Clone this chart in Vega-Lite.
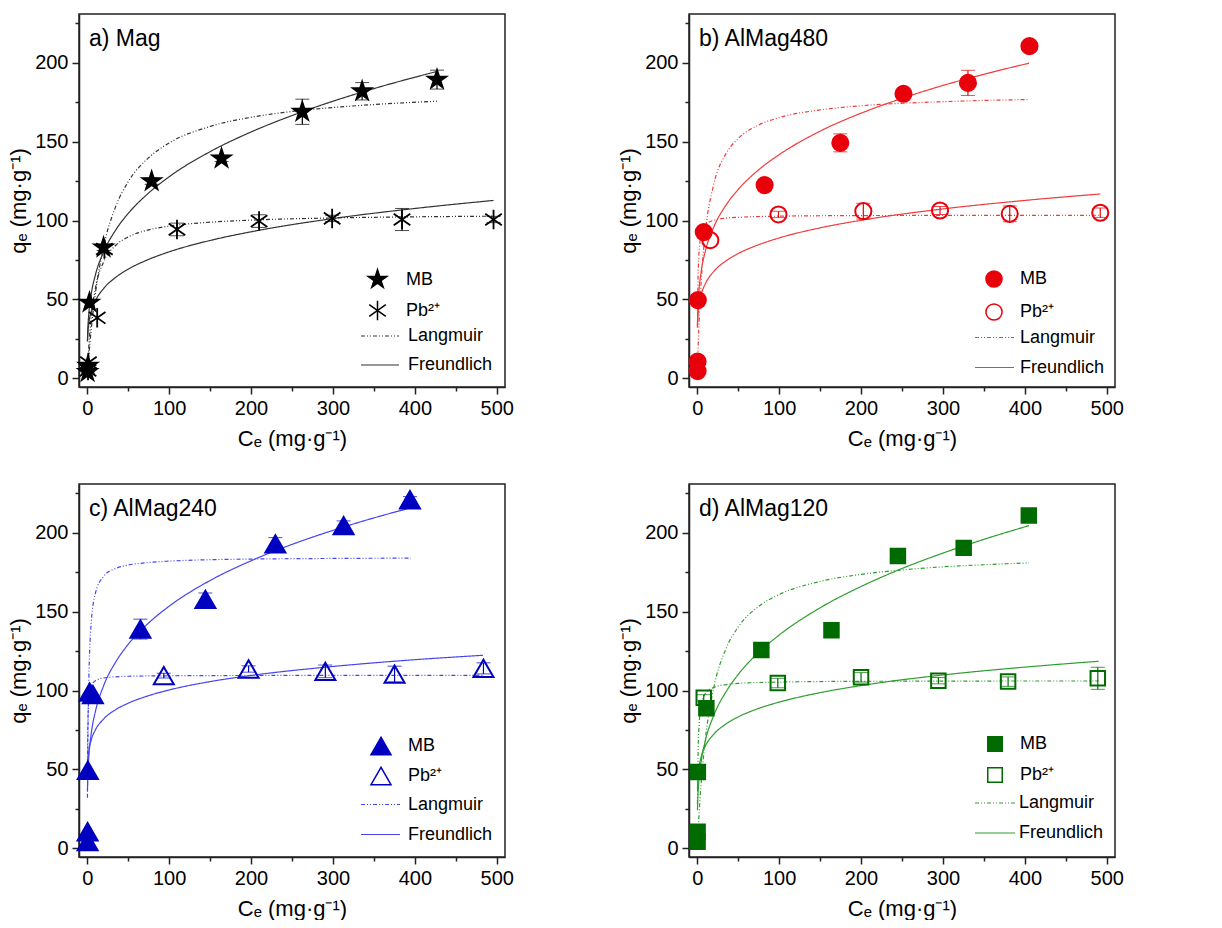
{
"$schema": "https://vega.github.io/schema/vega-lite/v6.json",
"padding": {"left": 6, "top": 13, "right": 5, "bottom": 0},
"columns": 2,
"bounds": "flush",
"spacing": {"row": 97, "column": 184},
"resolve": {"scale": {"shape": "independent", "fill": "independent", "strokeDash": "independent", "x": "independent", "y": "independent"}, "legend": {"shape": "independent", "fill": "independent", "strokeDash": "independent"}},
"config": {
  "font": "Liberation Sans",
  "view": {"stroke": "#222", "strokeWidth": 1.5},
  "axis": {"labelFontSize": 20, "titleFontSize": 22, "titleFontWeight": "normal", "labelColor": "#000", "titleColor": "#000", "tickColor": "#222", "domainColor": "#222", "domainWidth": 1.5, "tickWidth": 1.5, "grid": false, "labelPadding": 4, "labelFont": "Liberation Sans", "titleFont": "Liberation Sans"},
  "axisX": {"titlePadding": 10},
  "axisY": {"titlePadding": 4},
  "legend": {"labelFontSize": 18, "labelColor": "#000", "labelFont": "Liberation Sans", "padding": 0},
  "title": {"fontSize": 23, "fontWeight": "normal", "font": "Liberation Sans", "color": "#000", "anchor": "start", "frame": "group", "offset": -37, "dx": 10}
},
"datasets": {
"pts": [
{"p":"a","s":"MB","C":0.5,"q":4,"e":0},{"p":"a","s":"MB","C":1,"q":8,"e":0},{"p":"a","s":"MB","C":2.8,"q":48,"e":0},{"p":"a","s":"MB","C":20,"q":83,"e":2},{"p":"a","s":"MB","C":78.7,"q":125,"e":2},{"p":"a","s":"MB","C":164,"q":139.4,"e":2},{"p":"a","s":"MB","C":262.6,"q":169,"e":8},{"p":"a","s":"MB","C":335.6,"q":182,"e":5.5},{"p":"a","s":"MB","C":427,"q":189.4,"e":6},
{"p":"a","s":"Pb²⁺","C":1,"q":5,"e":0},{"p":"a","s":"Pb²⁺","C":1.5,"q":10,"e":0},{"p":"a","s":"Pb²⁺","C":12.2,"q":38.4,"e":0},{"p":"a","s":"Pb²⁺","C":21,"q":82,"e":0},{"p":"a","s":"Pb²⁺","C":109.6,"q":94.4,"e":4},{"p":"a","s":"Pb²⁺","C":209.8,"q":99.7,"e":4},{"p":"a","s":"Pb²⁺","C":299,"q":101.4,"e":2},{"p":"a","s":"Pb²⁺","C":384.3,"q":100.7,"e":7},{"p":"a","s":"Pb²⁺","C":496,"q":100.7,"e":2},
{"p":"b","s":"MB","C":0.5,"q":4.6,"e":0},{"p":"b","s":"MB","C":0.5,"q":10.6,"e":0},{"p":"b","s":"MB","C":0.8,"q":49.6,"e":0},{"p":"b","s":"MB","C":8,"q":92.7,"e":0},{"p":"b","s":"MB","C":82.3,"q":122.5,"e":3.5},{"p":"b","s":"MB","C":174.7,"q":149.3,"e":5.7},{"p":"b","s":"MB","C":251.8,"q":180.4,"e":2.5},{"p":"b","s":"MB","C":330.5,"q":187.3,"e":8},{"p":"b","s":"MB","C":405.6,"q":210.6,"e":3},
{"p":"b","s":"Pb²⁺","C":16,"q":87.6,"e":0},{"p":"b","s":"Pb²⁺","C":99.2,"q":103.9,"e":2},{"p":"b","s":"Pb²⁺","C":202.8,"q":106,"e":5},{"p":"b","s":"Pb²⁺","C":296.4,"q":106.4,"e":2.5},{"p":"b","s":"Pb²⁺","C":381.5,"q":104.3,"e":5},{"p":"b","s":"Pb²⁺","C":492,"q":105,"e":3},
{"p":"c","s":"MB","C":0.5,"q":4.2,"e":0},{"p":"c","s":"MB","C":0.5,"q":10.5,"e":0},{"p":"c","s":"MB","C":0.8,"q":49.5,"e":0},{"p":"c","s":"MB","C":3,"q":99,"e":0},{"p":"c","s":"MB","C":7,"q":97.5,"e":0},{"p":"c","s":"MB","C":65,"q":139,"e":6.3},{"p":"c","s":"MB","C":144.3,"q":157.9,"e":4},{"p":"c","s":"MB","C":229.7,"q":193,"e":4},{"p":"c","s":"MB","C":313,"q":204.6,"e":3},{"p":"c","s":"MB","C":394,"q":221,"e":2},
{"p":"c","s":"Pb²⁺","C":93.5,"q":109.5,"e":1.5},{"p":"c","s":"Pb²⁺","C":197,"q":113.7,"e":2},{"p":"c","s":"Pb²⁺","C":290.7,"q":112.2,"e":4},{"p":"c","s":"Pb²⁺","C":375.2,"q":110.5,"e":5},{"p":"c","s":"Pb²⁺","C":483.7,"q":114.1,"e":3.5},
{"p":"d","s":"MB","C":0.5,"q":4.2,"e":0},{"p":"d","s":"MB","C":0.5,"q":10.5,"e":0},{"p":"d","s":"MB","C":0.8,"q":48.4,"e":0},{"p":"d","s":"MB","C":11.2,"q":88.8,"e":2},{"p":"d","s":"MB","C":78.3,"q":125.7,"e":3},{"p":"d","s":"MB","C":163.9,"q":138.3,"e":2},{"p":"d","s":"MB","C":245,"q":185.3,"e":4},{"p":"d","s":"MB","C":325.3,"q":190.5,"e":3},{"p":"d","s":"MB","C":404.8,"q":211,"e":2},
{"p":"d","s":"Pb²⁺","C":8,"q":95.4,"e":2},{"p":"d","s":"Pb²⁺","C":98.4,"q":104.8,"e":3},{"p":"d","s":"Pb²⁺","C":200,"q":108.4,"e":3},{"p":"d","s":"Pb²⁺","C":294.4,"q":106.3,"e":2},{"p":"d","s":"Pb²⁺","C":379.5,"q":105.7,"e":3},{"p":"d","s":"Pb²⁺","C":489,"q":107.8,"e":7}
],
"fit": [
{"p":"a","s":"MB","m":"Langmuir","C":0.3,"q":2.24},{"p":"a","s":"MB","m":"Langmuir","C":1,"q":7.27},{"p":"a","s":"MB","m":"Langmuir","C":2,"q":13.98},{"p":"a","s":"MB","m":"Langmuir","C":5,"q":31.4},{"p":"a","s":"MB","m":"Langmuir","C":10,"q":53.7},{"p":"a","s":"MB","m":"Langmuir","C":20,"q":83.4},{"p":"a","s":"MB","m":"Langmuir","C":35,"q":109.2},{"p":"a","s":"MB","m":"Langmuir","C":50,"q":124.6},{"p":"a","s":"MB","m":"Langmuir","C":75,"q":139.9},{"p":"a","s":"MB","m":"Langmuir","C":100,"q":149.2},{"p":"a","s":"MB","m":"Langmuir","C":150,"q":159.7},{"p":"a","s":"MB","m":"Langmuir","C":200,"q":165.5},{"p":"a","s":"MB","m":"Langmuir","C":250,"q":169.2},{"p":"a","s":"MB","m":"Langmuir","C":300,"q":171.7},{"p":"a","s":"MB","m":"Langmuir","C":350,"q":173.6},{"p":"a","s":"MB","m":"Langmuir","C":427,"q":175.7},
{"p":"a","s":"MB","m":"Freundlich","C":0.3,"q":23.7},{"p":"a","s":"MB","m":"Freundlich","C":1,"q":33.6},{"p":"a","s":"MB","m":"Freundlich","C":2,"q":41.1},{"p":"a","s":"MB","m":"Freundlich","C":5,"q":53.6},{"p":"a","s":"MB","m":"Freundlich","C":10,"q":65.5},{"p":"a","s":"MB","m":"Freundlich","C":20,"q":80.1},{"p":"a","s":"MB","m":"Freundlich","C":35,"q":94.2},{"p":"a","s":"MB","m":"Freundlich","C":50,"q":104.5},{"p":"a","s":"MB","m":"Freundlich","C":75,"q":117.5},{"p":"a","s":"MB","m":"Freundlich","C":100,"q":127.8},{"p":"a","s":"MB","m":"Freundlich","C":150,"q":143.7},{"p":"a","s":"MB","m":"Freundlich","C":200,"q":156.2},{"p":"a","s":"MB","m":"Freundlich","C":250,"q":166.6},{"p":"a","s":"MB","m":"Freundlich","C":300,"q":175.7},{"p":"a","s":"MB","m":"Freundlich","C":350,"q":183.7},{"p":"a","s":"MB","m":"Freundlich","C":427,"q":194.6},
{"p":"a","s":"Pb²⁺","m":"Langmuir","C":0.3,"q":3.6},{"p":"a","s":"Pb²⁺","m":"Langmuir","C":1,"q":11.2},{"p":"a","s":"Pb²⁺","m":"Langmuir","C":2,"q":20.2},{"p":"a","s":"Pb²⁺","m":"Langmuir","C":5,"q":39.2},{"p":"a","s":"Pb²⁺","m":"Langmuir","C":10,"q":57.0},{"p":"a","s":"Pb²⁺","m":"Langmuir","C":20,"q":73.8},{"p":"a","s":"Pb²⁺","m":"Langmuir","C":35,"q":84.4},{"p":"a","s":"Pb²⁺","m":"Langmuir","C":50,"q":89.6},{"p":"a","s":"Pb²⁺","m":"Langmuir","C":75,"q":94.1},{"p":"a","s":"Pb²⁺","m":"Langmuir","C":100,"q":96.5},{"p":"a","s":"Pb²⁺","m":"Langmuir","C":150,"q":99.0},{"p":"a","s":"Pb²⁺","m":"Langmuir","C":200,"q":100.3},{"p":"a","s":"Pb²⁺","m":"Langmuir","C":300,"q":101.7},{"p":"a","s":"Pb²⁺","m":"Langmuir","C":400,"q":102.4},{"p":"a","s":"Pb²⁺","m":"Langmuir","C":496,"q":102.8},
{"p":"a","s":"Pb²⁺","m":"Freundlich","C":0.3,"q":23.3},{"p":"a","s":"Pb²⁺","m":"Freundlich","C":1,"q":30.1},{"p":"a","s":"Pb²⁺","m":"Freundlich","C":2,"q":34.9},{"p":"a","s":"Pb²⁺","m":"Freundlich","C":5,"q":42.4},{"p":"a","s":"Pb²⁺","m":"Freundlich","C":10,"q":49.1},{"p":"a","s":"Pb²⁺","m":"Freundlich","C":20,"q":56.9},{"p":"a","s":"Pb²⁺","m":"Freundlich","C":35,"q":64.1},{"p":"a","s":"Pb²⁺","m":"Freundlich","C":50,"q":69.2},{"p":"a","s":"Pb²⁺","m":"Freundlich","C":75,"q":75.4},{"p":"a","s":"Pb²⁺","m":"Freundlich","C":100,"q":80.2},{"p":"a","s":"Pb²⁺","m":"Freundlich","C":150,"q":87.4},{"p":"a","s":"Pb²⁺","m":"Freundlich","C":200,"q":92.9},{"p":"a","s":"Pb²⁺","m":"Freundlich","C":300,"q":101.3},{"p":"a","s":"Pb²⁺","m":"Freundlich","C":400,"q":107.7},{"p":"a","s":"Pb²⁺","m":"Freundlich","C":496,"q":112.8},
{"p":"b","s":"MB","m":"Langmuir","C":0.3,"q":5.5},{"p":"b","s":"MB","m":"Langmuir","C":1,"q":17.2},{"p":"b","s":"MB","m":"Langmuir","C":2,"q":31.4},{"p":"b","s":"MB","m":"Langmuir","C":5,"q":62.3},{"p":"b","s":"MB","m":"Langmuir","C":10,"q":92.7},{"p":"b","s":"MB","m":"Langmuir","C":20,"q":122.6},{"p":"b","s":"MB","m":"Langmuir","C":35,"q":142.3},{"p":"b","s":"MB","m":"Langmuir","C":50,"q":152.0},{"p":"b","s":"MB","m":"Langmuir","C":75,"q":160.6},{"p":"b","s":"MB","m":"Langmuir","C":100,"q":165.3},{"p":"b","s":"MB","m":"Langmuir","C":150,"q":170.2},{"p":"b","s":"MB","m":"Langmuir","C":200,"q":172.8},{"p":"b","s":"MB","m":"Langmuir","C":250,"q":174.4},{"p":"b","s":"MB","m":"Langmuir","C":300,"q":175.4},{"p":"b","s":"MB","m":"Langmuir","C":350,"q":176.2},{"p":"b","s":"MB","m":"Langmuir","C":405,"q":176.8},
{"p":"b","s":"MB","m":"Freundlich","C":0.3,"q":34.2},{"p":"b","s":"MB","m":"Freundlich","C":1,"q":45.9},{"p":"b","s":"MB","m":"Freundlich","C":2,"q":54.4},{"p":"b","s":"MB","m":"Freundlich","C":5,"q":68.1},{"p":"b","s":"MB","m":"Freundlich","C":10,"q":80.7},{"p":"b","s":"MB","m":"Freundlich","C":20,"q":95.6},{"p":"b","s":"MB","m":"Freundlich","C":35,"q":109.7},{"p":"b","s":"MB","m":"Freundlich","C":50,"q":119.7},{"p":"b","s":"MB","m":"Freundlich","C":75,"q":132.2},{"p":"b","s":"MB","m":"Freundlich","C":100,"q":141.8},{"p":"b","s":"MB","m":"Freundlich","C":150,"q":156.7},{"p":"b","s":"MB","m":"Freundlich","C":200,"q":168.1},{"p":"b","s":"MB","m":"Freundlich","C":250,"q":177.5},{"p":"b","s":"MB","m":"Freundlich","C":300,"q":185.7},{"p":"b","s":"MB","m":"Freundlich","C":350,"q":192.8},{"p":"b","s":"MB","m":"Freundlich","C":405,"q":199.8},
{"p":"b","s":"Pb²⁺","m":"Langmuir","C":0.3,"q":32.1},{"p":"b","s":"Pb²⁺","m":"Langmuir","C":1,"q":62.1},{"p":"b","s":"Pb²⁺","m":"Langmuir","C":2,"q":77.6},{"p":"b","s":"Pb²⁺","m":"Langmuir","C":3,"q":84.7},{"p":"b","s":"Pb²⁺","m":"Langmuir","C":5,"q":91.3},{"p":"b","s":"Pb²⁺","m":"Langmuir","C":10,"q":97.0},{"p":"b","s":"Pb²⁺","m":"Langmuir","C":20,"q":100.2},{"p":"b","s":"Pb²⁺","m":"Langmuir","C":35,"q":101.6},{"p":"b","s":"Pb²⁺","m":"Langmuir","C":50,"q":102.1},{"p":"b","s":"Pb²⁺","m":"Langmuir","C":100,"q":102.8},{"p":"b","s":"Pb²⁺","m":"Langmuir","C":200,"q":103.2},{"p":"b","s":"Pb²⁺","m":"Langmuir","C":300,"q":103.3},{"p":"b","s":"Pb²⁺","m":"Langmuir","C":400,"q":103.3},{"p":"b","s":"Pb²⁺","m":"Langmuir","C":492,"q":103.4},
{"p":"b","s":"Pb²⁺","m":"Freundlich","C":0.3,"q":33.0},{"p":"b","s":"Pb²⁺","m":"Freundlich","C":1,"q":40.5},{"p":"b","s":"Pb²⁺","m":"Freundlich","C":2,"q":45.6},{"p":"b","s":"Pb²⁺","m":"Freundlich","C":5,"q":53.3},{"p":"b","s":"Pb²⁺","m":"Freundlich","C":10,"q":60.0},{"p":"b","s":"Pb²⁺","m":"Freundlich","C":20,"q":67.6},{"p":"b","s":"Pb²⁺","m":"Freundlich","C":35,"q":74.4},{"p":"b","s":"Pb²⁺","m":"Freundlich","C":50,"q":79.1},{"p":"b","s":"Pb²⁺","m":"Freundlich","C":75,"q":84.7},{"p":"b","s":"Pb²⁺","m":"Freundlich","C":100,"q":89.0},{"p":"b","s":"Pb²⁺","m":"Freundlich","C":150,"q":95.4},{"p":"b","s":"Pb²⁺","m":"Freundlich","C":200,"q":100.2},{"p":"b","s":"Pb²⁺","m":"Freundlich","C":300,"q":107.4},{"p":"b","s":"Pb²⁺","m":"Freundlich","C":400,"q":112.8},{"p":"b","s":"Pb²⁺","m":"Freundlich","C":492,"q":116.9},
{"p":"c","s":"MB","m":"Langmuir","C":0.3,"q":32.1},{"p":"c","s":"MB","m":"Langmuir","C":1,"q":76.1},{"p":"c","s":"MB","m":"Langmuir","C":2,"q":107.7},{"p":"c","s":"MB","m":"Langmuir","C":3,"q":125.1},{"p":"c","s":"MB","m":"Langmuir","C":5,"q":143.7},{"p":"c","s":"MB","m":"Langmuir","C":10,"q":161.6},{"p":"c","s":"MB","m":"Langmuir","C":20,"q":172.4},{"p":"c","s":"MB","m":"Langmuir","C":35,"q":177.5},{"p":"c","s":"MB","m":"Langmuir","C":50,"q":179.6},{"p":"c","s":"MB","m":"Langmuir","C":75,"q":181.2},{"p":"c","s":"MB","m":"Langmuir","C":100,"q":182.1},{"p":"c","s":"MB","m":"Langmuir","C":150,"q":183.0},{"p":"c","s":"MB","m":"Langmuir","C":200,"q":183.4},{"p":"c","s":"MB","m":"Langmuir","C":300,"q":183.8},{"p":"c","s":"MB","m":"Langmuir","C":395,"q":184.0},
{"p":"c","s":"MB","m":"Freundlich","C":0.3,"q":36.4},{"p":"c","s":"MB","m":"Freundlich","C":1,"q":49.0},{"p":"c","s":"MB","m":"Freundlich","C":2,"q":58.2},{"p":"c","s":"MB","m":"Freundlich","C":5,"q":73.0},{"p":"c","s":"MB","m":"Freundlich","C":10,"q":86.7},{"p":"c","s":"MB","m":"Freundlich","C":20,"q":103.0},{"p":"c","s":"MB","m":"Freundlich","C":35,"q":118.3},{"p":"c","s":"MB","m":"Freundlich","C":50,"q":129.3},{"p":"c","s":"MB","m":"Freundlich","C":75,"q":142.9},{"p":"c","s":"MB","m":"Freundlich","C":100,"q":153.5},{"p":"c","s":"MB","m":"Freundlich","C":150,"q":169.8},{"p":"c","s":"MB","m":"Freundlich","C":200,"q":182.3},{"p":"c","s":"MB","m":"Freundlich","C":250,"q":192.7},{"p":"c","s":"MB","m":"Freundlich","C":300,"q":201.6},{"p":"c","s":"MB","m":"Freundlich","C":350,"q":209.5},{"p":"c","s":"MB","m":"Freundlich","C":395,"q":215.9},
{"p":"c","s":"Pb²⁺","m":"Langmuir","C":0.3,"q":52.0},{"p":"c","s":"Pb²⁺","m":"Langmuir","C":1,"q":82.4},{"p":"c","s":"Pb²⁺","m":"Langmuir","C":2,"q":94.1},{"p":"c","s":"Pb²⁺","m":"Langmuir","C":5,"q":102.9},{"p":"c","s":"Pb²⁺","m":"Langmuir","C":10,"q":106.3},{"p":"c","s":"Pb²⁺","m":"Langmuir","C":20,"q":108.0},{"p":"c","s":"Pb²⁺","m":"Langmuir","C":50,"q":109.1},{"p":"c","s":"Pb²⁺","m":"Langmuir","C":100,"q":109.4},{"p":"c","s":"Pb²⁺","m":"Langmuir","C":200,"q":109.6},{"p":"c","s":"Pb²⁺","m":"Langmuir","C":300,"q":109.7},{"p":"c","s":"Pb²⁺","m":"Langmuir","C":400,"q":109.7},{"p":"c","s":"Pb²⁺","m":"Langmuir","C":483,"q":109.7},
{"p":"c","s":"Pb²⁺","m":"Freundlich","C":0.3,"q":48.3},{"p":"c","s":"Pb²⁺","m":"Freundlich","C":1,"q":56.2},{"p":"c","s":"Pb²⁺","m":"Freundlich","C":2,"q":61.3},{"p":"c","s":"Pb²⁺","m":"Freundlich","C":5,"q":68.8},{"p":"c","s":"Pb²⁺","m":"Freundlich","C":10,"q":75.1},{"p":"c","s":"Pb²⁺","m":"Freundlich","C":20,"q":82.0},{"p":"c","s":"Pb²⁺","m":"Freundlich","C":35,"q":88.0},{"p":"c","s":"Pb²⁺","m":"Freundlich","C":50,"q":92.0},{"p":"c","s":"Pb²⁺","m":"Freundlich","C":75,"q":96.8},{"p":"c","s":"Pb²⁺","m":"Freundlich","C":100,"q":100.4},{"p":"c","s":"Pb²⁺","m":"Freundlich","C":150,"q":105.7},{"p":"c","s":"Pb²⁺","m":"Freundlich","C":200,"q":109.6},{"p":"c","s":"Pb²⁺","m":"Freundlich","C":300,"q":115.3},{"p":"c","s":"Pb²⁺","m":"Freundlich","C":400,"q":119.6},{"p":"c","s":"Pb²⁺","m":"Freundlich","C":483,"q":122.4},
{"p":"d","s":"MB","m":"Langmuir","C":0.3,"q":3.2},{"p":"d","s":"MB","m":"Langmuir","C":1,"q":10.3},{"p":"d","s":"MB","m":"Langmuir","C":2,"q":19.6},{"p":"d","s":"MB","m":"Langmuir","C":5,"q":42.4},{"p":"d","s":"MB","m":"Langmuir","C":10,"q":69.3},{"p":"d","s":"MB","m":"Langmuir","C":20,"q":101.3},{"p":"d","s":"MB","m":"Langmuir","C":35,"q":126.4},{"p":"d","s":"MB","m":"Langmuir","C":50,"q":140.3},{"p":"d","s":"MB","m":"Langmuir","C":75,"q":153.4},{"p":"d","s":"MB","m":"Langmuir","C":100,"q":160.9},{"p":"d","s":"MB","m":"Langmuir","C":150,"q":169.2},{"p":"d","s":"MB","m":"Langmuir","C":200,"q":173.7},{"p":"d","s":"MB","m":"Langmuir","C":250,"q":176.5},{"p":"d","s":"MB","m":"Langmuir","C":300,"q":178.5},{"p":"d","s":"MB","m":"Langmuir","C":350,"q":179.8},{"p":"d","s":"MB","m":"Langmuir","C":405,"q":181.0},
{"p":"d","s":"MB","m":"Freundlich","C":0.3,"q":24.2},{"p":"d","s":"MB","m":"Freundlich","C":1,"q":34.6},{"p":"d","s":"MB","m":"Freundlich","C":2,"q":42.5},{"p":"d","s":"MB","m":"Freundlich","C":5,"q":55.7},{"p":"d","s":"MB","m":"Freundlich","C":10,"q":68.4},{"p":"d","s":"MB","m":"Freundlich","C":20,"q":84.0},{"p":"d","s":"MB","m":"Freundlich","C":35,"q":99.1},{"p":"d","s":"MB","m":"Freundlich","C":50,"q":110.2},{"p":"d","s":"MB","m":"Freundlich","C":75,"q":124.2},{"p":"d","s":"MB","m":"Freundlich","C":100,"q":135.2},{"p":"d","s":"MB","m":"Freundlich","C":150,"q":152.5},{"p":"d","s":"MB","m":"Freundlich","C":200,"q":166.0},{"p":"d","s":"MB","m":"Freundlich","C":250,"q":177.4},{"p":"d","s":"MB","m":"Freundlich","C":300,"q":187.2},{"p":"d","s":"MB","m":"Freundlich","C":350,"q":195.9},{"p":"d","s":"MB","m":"Freundlich","C":405,"q":204.6},
{"p":"d","s":"Pb²⁺","m":"Langmuir","C":0.3,"q":28.1},{"p":"d","s":"Pb²⁺","m":"Langmuir","C":1,"q":58.0},{"p":"d","s":"Pb²⁺","m":"Langmuir","C":2,"q":75.0},{"p":"d","s":"Pb²⁺","m":"Langmuir","C":5,"q":91.1},{"p":"d","s":"Pb²⁺","m":"Langmuir","C":10,"q":98.1},{"p":"d","s":"Pb²⁺","m":"Langmuir","C":20,"q":102.0},{"p":"d","s":"Pb²⁺","m":"Langmuir","C":35,"q":103.8},{"p":"d","s":"Pb²⁺","m":"Langmuir","C":50,"q":104.6},{"p":"d","s":"Pb²⁺","m":"Langmuir","C":100,"q":105.4},{"p":"d","s":"Pb²⁺","m":"Langmuir","C":200,"q":105.9},{"p":"d","s":"Pb²⁺","m":"Langmuir","C":300,"q":106.0},{"p":"d","s":"Pb²⁺","m":"Langmuir","C":400,"q":106.1},{"p":"d","s":"Pb²⁺","m":"Langmuir","C":490,"q":106.1},
{"p":"d","s":"Pb²⁺","m":"Freundlich","C":0.3,"q":37.7},{"p":"d","s":"Pb²⁺","m":"Freundlich","C":1,"q":45.4},{"p":"d","s":"Pb²⁺","m":"Freundlich","C":2,"q":50.5},{"p":"d","s":"Pb²⁺","m":"Freundlich","C":5,"q":58.3},{"p":"d","s":"Pb²⁺","m":"Freundlich","C":10,"q":64.9},{"p":"d","s":"Pb²⁺","m":"Freundlich","C":20,"q":72.2},{"p":"d","s":"Pb²⁺","m":"Freundlich","C":35,"q":78.8},{"p":"d","s":"Pb²⁺","m":"Freundlich","C":50,"q":83.3},{"p":"d","s":"Pb²⁺","m":"Freundlich","C":75,"q":88.7},{"p":"d","s":"Pb²⁺","m":"Freundlich","C":100,"q":92.7},{"p":"d","s":"Pb²⁺","m":"Freundlich","C":150,"q":98.7},{"p":"d","s":"Pb²⁺","m":"Freundlich","C":200,"q":103.2},{"p":"d","s":"Pb²⁺","m":"Freundlich","C":300,"q":109.9},{"p":"d","s":"Pb²⁺","m":"Freundlich","C":400,"q":114.9},{"p":"d","s":"Pb²⁺","m":"Freundlich","C":490,"q":118.6}
]
},
"concat": [
{
"width": 426, "height": 373,
"title": {"text": "a) Mag"},
"encoding": {
  "x": {"field": "C", "type": "quantitative", "scale": {"domain": [-10, 510], "nice": false, "zero": false}, "axis": {"title": "Cₑ (mg·g⁻¹)", "values": [0,50,100,150,200,250,300,350,400,450,500], "labelExpr": "datum.value % 100 === 0 ? datum.label : ''", "tickSize": {"condition": {"test": "datum.value % 100 === 0", "value": 7}, "value": 4}}},
  "y": {"field": "q", "type": "quantitative", "scale": {"domain": [-5.5, 231], "nice": false, "zero": false}, "axis": {"title": "qₑ (mg·g⁻¹)", "values": [0,25,50,75,100,125,150,175,200,225], "labelExpr": "datum.value % 50 === 0 ? datum.label : ''", "tickSize": {"condition": {"test": "datum.value % 50 === 0", "value": 7}, "value": 4}}}
},
"layer": [
  {"data": {"name": "fit"}, "transform": [{"filter": "datum.p === 'a'"}],
   "mark": {"type": "line", "color": "#333", "strokeWidth": 1.2, "interpolate": "monotone"},
   "encoding": {"detail": {"field": "s"}, "strokeDash": {"field": "m", "type": "nominal", "scale": {"domain": ["Langmuir", "Freundlich"], "range": [[4,2,1,2,1,2],[1,0]]}, "legend": {"title": null, "orient": "none", "legendX": 281, "legendY": 302, "symbolType": "stroke", "symbolSize": 1444, "symbolStrokeColor": "#333", "symbolStrokeWidth": 1.2, "labelOffset": 8, "rowPadding": -2}}}},
  {"data": {"name": "pts"}, "transform": [{"filter": "datum.p === 'a' && datum.e > 0"}],
   "mark": {"type": "errorbar", "color": "#000", "ticks": {"size": 14, "color": "#000"}, "rule": {"color": "#000", "strokeWidth": 1.2}},
   "encoding": {"yError": {"field": "e"}}},
  {"data": {"name": "pts"}, "transform": [{"filter": "datum.p === 'a'"}],
   "mark": {"type": "point", "size": 380, "strokeWidth": 1.8, "opacity": 1, "stroke": "#000"},
   "encoding": {
     "shape": {"field": "s", "type": "nominal", "scale": {"domain": ["MB", "Pb²⁺"], "range": ["M0,-1L0.2245,-0.309L0.951,-0.309L0.363,0.118L0.588,0.809L0,0.382L-0.588,0.809L-0.363,0.118L-0.951,-0.309L-0.2245,-0.309Z", "M0,-1L0,1M-0.85,-0.6L0.85,0.6M-0.85,0.6L0.85,-0.6"]}, "legend": {"title": null, "orient": "none", "legendX": 288, "legendY": 255, "symbolSize": 380, "labelOffset": 18, "rowPadding": 6, "encode": {"symbols": {"update": {"stroke": {"value": "#000"}, "strokeWidth": {"value": 1.8}}}}}},
     "fill": {"field": "s", "type": "nominal", "scale": {"domain": ["MB", "Pb²⁺"], "range": ["#000", "transparent"]}, "legend": {"title": null, "orient": "none", "legendX": 288, "legendY": 255, "symbolSize": 380, "labelOffset": 18, "rowPadding": 6, "encode": {"symbols": {"update": {"stroke": {"value": "#000"}, "strokeWidth": {"value": 1.8}}}}}}
   }}
]
},
{
"width": 426, "height": 373,
"title": {"text": "b) AlMag480"},
"encoding": {
  "x": {"field": "C", "type": "quantitative", "scale": {"domain": [-10, 510], "nice": false, "zero": false}, "axis": {"title": "Cₑ (mg·g⁻¹)", "values": [0,50,100,150,200,250,300,350,400,450,500], "labelExpr": "datum.value % 100 === 0 ? datum.label : ''", "tickSize": {"condition": {"test": "datum.value % 100 === 0", "value": 7}, "value": 4}}},
  "y": {"field": "q", "type": "quantitative", "scale": {"domain": [-5.5, 231], "nice": false, "zero": false}, "axis": {"title": "qₑ (mg·g⁻¹)", "values": [0,25,50,75,100,125,150,175,200,225], "labelExpr": "datum.value % 50 === 0 ? datum.label : ''", "tickSize": {"condition": {"test": "datum.value % 50 === 0", "value": 7}, "value": 4}}}
},
"layer": [
  {"data": {"name": "fit"}, "transform": [{"filter": "datum.p === 'b'"}],
   "mark": {"type": "line", "color": "#f03c3c", "strokeWidth": 1.2, "interpolate": "monotone"},
   "encoding": {"detail": {"field": "s"}, "strokeDash": {"field": "m", "type": "nominal", "scale": {"domain": ["Langmuir", "Freundlich"], "range": [[4,2,1,2,1,2],[1,0]]}, "legend": {"title": null, "orient": "none", "legendX": 285, "legendY": 303, "symbolType": "stroke", "symbolSize": 1521, "symbolStrokeColor": "#f03c3c", "symbolStrokeWidth": 1.2, "labelOffset": 5, "rowPadding": -2}}}},
  {"data": {"name": "pts"}, "transform": [{"filter": "datum.p === 'b' && datum.e > 0"}],
   "mark": {"type": "errorbar", "color": "#e8000b", "ticks": {"size": 14, "color": "#e8000b"}, "rule": {"color": "#e8000b", "strokeWidth": 1.2}},
   "encoding": {"yError": {"field": "e"}}},
  {"data": {"name": "pts"}, "transform": [{"filter": "datum.p === 'b'"}],
   "mark": {"type": "point", "size": 260, "strokeWidth": 2, "opacity": 1, "stroke": "#e8000b"},
   "encoding": {
     "shape": {"field": "s", "type": "nominal", "scale": {"domain": ["MB", "Pb²⁺"], "range": ["circle", "circle"]}, "legend": {"title": null, "orient": "none", "legendX": 296, "legendY": 256, "symbolSize": 260, "labelOffset": 17, "rowPadding": 9, "encode": {"symbols": {"update": {"stroke": {"value": "#e8000b"}, "strokeWidth": {"value": 2}}}}}},
     "fill": {"field": "s", "type": "nominal", "scale": {"domain": ["MB", "Pb²⁺"], "range": ["#e8000b", "transparent"]}, "legend": {"title": null, "orient": "none", "legendX": 296, "legendY": 256, "symbolSize": 260, "labelOffset": 17, "rowPadding": 9, "encode": {"symbols": {"update": {"stroke": {"value": "#e8000b"}, "strokeWidth": {"value": 2}}}}}}
   }}
]
},
{
"width": 426, "height": 373,
"title": {"text": "c) AlMag240"},
"encoding": {
  "x": {"field": "C", "type": "quantitative", "scale": {"domain": [-10, 510], "nice": false, "zero": false}, "axis": {"title": "Cₑ (mg·g⁻¹)", "values": [0,50,100,150,200,250,300,350,400,450,500], "labelExpr": "datum.value % 100 === 0 ? datum.label : ''", "tickSize": {"condition": {"test": "datum.value % 100 === 0", "value": 7}, "value": 4}}},
  "y": {"field": "q", "type": "quantitative", "scale": {"domain": [-5.5, 231], "nice": false, "zero": false}, "axis": {"title": "qₑ (mg·g⁻¹)", "values": [0,25,50,75,100,125,150,175,200,225], "labelExpr": "datum.value % 50 === 0 ? datum.label : ''", "tickSize": {"condition": {"test": "datum.value % 50 === 0", "value": 7}, "value": 4}}}
},
"layer": [
  {"data": {"name": "fit"}, "transform": [{"filter": "datum.p === 'c'"}],
   "mark": {"type": "line", "color": "#4646f0", "strokeWidth": 1.2, "interpolate": "monotone"},
   "encoding": {"detail": {"field": "s"}, "strokeDash": {"field": "m", "type": "nominal", "scale": {"domain": ["Langmuir", "Freundlich"], "range": [[4,2,1,2,1,2],[1,0]]}, "legend": {"title": null, "orient": "none", "legendX": 281, "legendY": 300, "symbolType": "stroke", "symbolSize": 1521, "symbolStrokeColor": "#4646f0", "symbolStrokeWidth": 1.2, "labelOffset": 7, "rowPadding": -4}}}},
  {"data": {"name": "pts"}, "transform": [{"filter": "datum.p === 'c' && datum.e > 0"}],
   "mark": {"type": "errorbar", "color": "#0000c0", "ticks": {"size": 14, "color": "#0000c0"}, "rule": {"color": "#0000c0", "strokeWidth": 1.2}},
   "encoding": {"yError": {"field": "e"}}},
  {"data": {"name": "pts"}, "transform": [{"filter": "datum.p === 'c'"}],
   "mark": {"type": "point", "size": 400, "strokeWidth": 2, "opacity": 1, "stroke": "#0000c0"},
   "encoding": {
     "shape": {"field": "s", "type": "nominal", "scale": {"domain": ["MB", "Pb²⁺"], "range": ["triangle-up", "triangle-up"]}, "legend": {"title": null, "orient": "none", "legendX": 291, "legendY": 251, "symbolSize": 400, "labelOffset": 16, "rowPadding": 6, "encode": {"symbols": {"update": {"stroke": {"value": "#0000c0"}, "strokeWidth": {"value": 2}}}}}},
     "fill": {"field": "s", "type": "nominal", "scale": {"domain": ["MB", "Pb²⁺"], "range": ["#0000c0", "transparent"]}, "legend": {"title": null, "orient": "none", "legendX": 291, "legendY": 251, "symbolSize": 400, "labelOffset": 16, "rowPadding": 6, "encode": {"symbols": {"update": {"stroke": {"value": "#0000c0"}, "strokeWidth": {"value": 2}}}}}}
   }}
]
},
{
"width": 426, "height": 373,
"title": {"text": "d) AlMag120"},
"encoding": {
  "x": {"field": "C", "type": "quantitative", "scale": {"domain": [-10, 510], "nice": false, "zero": false}, "axis": {"title": "Cₑ (mg·g⁻¹)", "values": [0,50,100,150,200,250,300,350,400,450,500], "labelExpr": "datum.value % 100 === 0 ? datum.label : ''", "tickSize": {"condition": {"test": "datum.value % 100 === 0", "value": 7}, "value": 4}}},
  "y": {"field": "q", "type": "quantitative", "scale": {"domain": [-5.5, 231], "nice": false, "zero": false}, "axis": {"title": "qₑ (mg·g⁻¹)", "values": [0,25,50,75,100,125,150,175,200,225], "labelExpr": "datum.value % 50 === 0 ? datum.label : ''", "tickSize": {"condition": {"test": "datum.value % 50 === 0", "value": 7}, "value": 4}}}
},
"layer": [
  {"data": {"name": "fit"}, "transform": [{"filter": "datum.p === 'd'"}],
   "mark": {"type": "line", "color": "#2e9e2e", "strokeWidth": 1.2, "interpolate": "monotone"},
   "encoding": {"detail": {"field": "s"}, "strokeDash": {"field": "m", "type": "nominal", "scale": {"domain": ["Langmuir", "Freundlich"], "range": [[4,2,1,2,1,2],[1,0]]}, "legend": {"title": null, "orient": "none", "legendX": 285, "legendY": 298, "symbolType": "stroke", "symbolSize": 1600, "symbolStrokeColor": "#2e9e2e", "symbolStrokeWidth": 1.2, "labelOffset": 3, "rowPadding": -4}}}},
  {"data": {"name": "pts"}, "transform": [{"filter": "datum.p === 'd' && datum.e > 0"}],
   "mark": {"type": "errorbar", "color": "#006b00", "ticks": {"size": 14, "color": "#006b00"}, "rule": {"color": "#006b00", "strokeWidth": 1.2}},
   "encoding": {"yError": {"field": "e"}}},
  {"data": {"name": "pts"}, "transform": [{"filter": "datum.p === 'd'"}],
   "mark": {"type": "point", "size": 210, "strokeWidth": 2, "opacity": 1, "stroke": "#006b00"},
   "encoding": {
     "shape": {"field": "s", "type": "nominal", "scale": {"domain": ["MB", "Pb²⁺"], "range": ["square", "square"]}, "legend": {"title": null, "orient": "none", "legendX": 297, "legendY": 251, "symbolSize": 210, "labelOffset": 16, "rowPadding": 9, "encode": {"symbols": {"update": {"stroke": {"value": "#006b00"}, "strokeWidth": {"value": 2}}}}}},
     "fill": {"field": "s", "type": "nominal", "scale": {"domain": ["MB", "Pb²⁺"], "range": ["#006b00", "transparent"]}, "legend": {"title": null, "orient": "none", "legendX": 297, "legendY": 251, "symbolSize": 210, "labelOffset": 16, "rowPadding": 9, "encode": {"symbols": {"update": {"stroke": {"value": "#006b00"}, "strokeWidth": {"value": 2}}}}}}
   }}
]
}
]
}
